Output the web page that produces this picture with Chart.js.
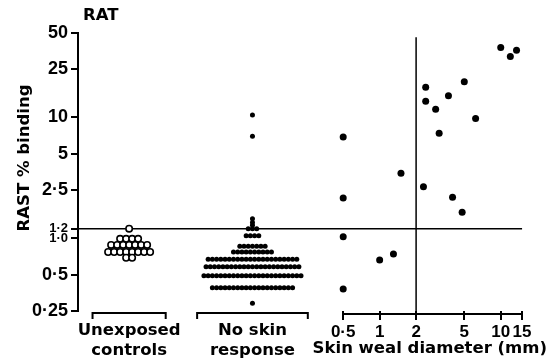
<!DOCTYPE html>
<html>
<head>
<meta charset="utf-8">
<script src="https://cdn.jsdelivr.net/npm/chart.js@4.4.1/dist/chart.umd.min.js"></script>
<style>
  html, body { margin: 0; padding: 0; background: #fff; }
  #wrap { width: 557px; height: 363px; }
</style>
</head>
<body>
<div id="wrap"><canvas id="ratChart" width="557" height="363"></canvas></div>
<script>
// tick labels
const yTicks = [0.25, 0.5, 1, 1.2, 2.5, 5, 10, 25, 50];
const yTickLabels = ['0·25', '0·5', '1·0', '1·2', '2·5', '5', '10', '25', '50'];
const wealTicks = [0.5, 1, 2, 5, 10, 15];
const wealTickLabels = ['0·5', '1', '2', '5', '10', '15'];

// groups
const groupNames = [['Unexposed', 'controls'], ['No skin', 'response']];

// unexposed controls: one row per value, count of circles in the row
const controlValues = [1.2, 0.99, 0.88, 0.77, 0.69];
const controlCounts = [1, 4, 7, 8, 2];

// no skin response
const noSkinValues = [10.5, 7, 1.45, 1.35, 1.28, 1.2, 1.05, 0.86, 0.77, 0.67, 0.58, 0.49, 0.39, 0.29];
const noSkinCounts = [1, 1, 1, 1, 1, 3, 4, 7, 10, 22, 23, 24, 20, 1];

// positive skin test: weal diameter (mm) vs RAST binding (%)
const wealDiameter = [10, 13.5, 12, 5, 2.4, 3.7, 2.4, 2.9, 6.2, 0.5, 3.1, 1.5, 2.3, 0.5, 4, 4.8, 0.5, 1, 1.3, 0.5];
const wealBinding = [38, 36, 32, 19.7, 17.8, 15.1, 13.6, 11.7, 9.8, 6.9, 7.4, 3.45, 2.67, 2.15, 2.18, 1.64, 1.03, 0.66, 0.74, 0.38];

const cutoffBinding = 1.2;
const cutoffWeal = 2;

// layout of the left part (units of the hidden 'xc' axis, 0..100)
const groupCenter = [10.9, 37.2];
const groupHalfWidth = [7.8, 11.8];
const dotSpacing = [1.28, 0.9];

const fontFamily = '"DejaVu Sans", sans-serif';
const digitFamily = '"Liberation Sans", Arial, sans-serif';
const textFont = { family: fontFamily, size: 16.5, weight: 'bold' };

function swarm(values, counts, g) {
    const pts = [];
    values.forEach((v, r) => {
        const n = counts[r];
        for (let i = 0; i < n; i++) {
            pts.push({ x: groupCenter[g] + (i - (n - 1) / 2) * dotSpacing[g], y: v });
        }
    });
    return pts;
}

const refLines = {
    id: 'refLines',
    beforeDatasetsDraw(chart) {
        const { ctx, chartArea } = chart;
        const y = chart.scales.y;
        const xw = chart.scales.xw;
        const xc = chart.scales.xc;
        ctx.save();
        ctx.strokeStyle = '#000';
        ctx.lineWidth = 1.5;
        // 1.2 % cut-off
        const yc = y.getPixelForValue(cutoffBinding);
        ctx.beginPath();
        ctx.moveTo(chartArea.left, yc);
        ctx.lineTo(xw.getPixelForValue(15), yc);
        ctx.stroke();
        // 2 mm cut-off
        const xcut = xw.getPixelForValue(cutoffWeal);
        ctx.beginPath();
        ctx.moveTo(xcut, y.getPixelForValue(46));
        ctx.lineTo(xcut, chartArea.bottom + 3);
        ctx.stroke();
        // brackets under the groups
        ctx.lineWidth = 2;
        const by = chartArea.bottom + 2;
        groupCenter.forEach((c, g) => {
            const l = xc.getPixelForValue(c - groupHalfWidth[g]);
            const r = xc.getPixelForValue(c + groupHalfWidth[g]);
            ctx.beginPath();
            ctx.moveTo(l, by + 6);
            ctx.lineTo(l, by);
            ctx.lineTo(r, by);
            ctx.lineTo(r, by + 6);
            ctx.stroke();
        });
        ctx.beginPath();
        ctx.moveTo(xw.getPixelForValue(0.5), chartArea.bottom + 3);
        ctx.lineTo(xw.getPixelForValue(15), chartArea.bottom + 3);
        ctx.stroke();
        ctx.restore();
    },
    afterDraw(chart) {
        const { ctx, chartArea } = chart;
        const xc = chart.scales.xc;
        ctx.save();
        ctx.fillStyle = '#000';
        ctx.font = 'bold 16.5px ' + fontFamily;
        ctx.textAlign = 'center';
        ctx.textBaseline = 'alphabetic';
        groupNames.forEach((lines, g) => {
            const x = xc.getPixelForValue(groupCenter[g]);
            lines.forEach((t, k) => ctx.fillText(t, x, chartArea.bottom + 24 + k * 20));
        });
        // panel label
        ctx.textAlign = 'left';
        ctx.fillText('RAT', 83, 20);
        // y title
        ctx.translate(25, 158);
        ctx.rotate(-Math.PI / 2);
        ctx.textAlign = 'center';
        ctx.textBaseline = 'middle';
        ctx.fillText('RAST % binding', 0, 0);
        ctx.restore();
    }
};

const ctx = document.getElementById('ratChart').getContext('2d');

new Chart(ctx, {
    type: 'scatter',
    data: {
        datasets: [
            {
                label: 'Unexposed controls',
                data: swarm(controlValues, controlCounts, 0),
                xAxisID: 'xc',
                pointStyle: 'circle',
                pointRadius: 3.2,
                pointBorderWidth: 1.6,
                borderColor: '#000',
                backgroundColor: '#fff'
            },
            {
                label: 'No skin response',
                data: swarm(noSkinValues, noSkinCounts, 1),
                xAxisID: 'xc',
                pointRadius: 2.5,
                pointBorderWidth: 0,
                borderColor: '#000',
                backgroundColor: '#000'
            },
            {
                label: 'Skin weal',
                data: wealDiameter.map((d, i) => ({ x: d, y: wealBinding[i] })),
                xAxisID: 'xw',
                pointRadius: 3.5,
                pointBorderWidth: 0,
                borderColor: '#000',
                backgroundColor: '#000'
            }
        ]
    },
    options: {
        responsive: false,
        animation: false,
        layout: { padding: { top: 33, right: 10, left: 0, bottom: 0 } },
        plugins: {
            legend: { display: false },
            tooltip: { enabled: false }
        },
        scales: {
            y: {
                type: 'logarithmic',
                position: 'left',
                min: 0.25,
                max: 50,
                afterBuildTicks: s => { s.ticks = yTicks.map(v => ({ value: v })); },
                afterFit: s => { s.width = 78; },
                border: { display: true, color: '#000', width: 2 },
                grid: { display: true, drawOnChartArea: false, drawTicks: true, tickLength: 7, color: '#000', lineWidth: 2 },
                ticks: {
                    autoSkip: false,
                    padding: 3,
                    color: '#000',
                    font: c => ({ family: digitFamily, weight: 'bold', size: (c.tick && (c.tick.value === 1 || c.tick.value === 1.2)) ? 13 : 18 }),
                    callback: (v, i) => yTickLabels[i]
                }
            },
            xw: {
                type: 'logarithmic',
                position: 'bottom',
                min: 0.5 * Math.pow(10, -265 / 121),
                max: 24.1,
                afterBuildTicks: s => { s.ticks = wealTicks.map(v => ({ value: v })); },
                afterFit: s => { s.height = 52; },
                border: { display: false },
                grid: { display: true, drawOnChartArea: false, drawTicks: true, tickLength: 9, color: '#000', lineWidth: 2 },
                ticks: {
                    autoSkip: false,
                    maxRotation: 0,
                    padding: 2,
                    color: '#000',
                    font: { family: digitFamily, weight: 'bold', size: 17 },
                    callback: (v, i) => wealTickLabels[i]
                },
                title: {
                    display: true,
                    text: 'Skin weal diameter (mm)',
                    align: 'end',
                    color: '#000',
                    font: textFont,
                    padding: { top: 0, bottom: 4 }
                }
            },
            xc: {
                type: 'linear',
                display: false,
                min: 0,
                max: 100
            }
        }
    },
    plugins: [refLines]
});
</script>
</body>
</html>
